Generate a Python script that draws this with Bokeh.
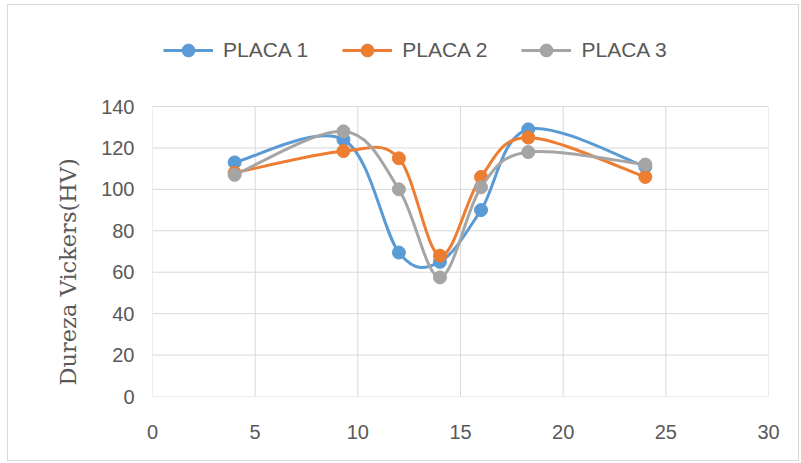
from bokeh.plotting import figure
from bokeh.models import Legend, LegendItem, Range1d, FixedTicker, Title
from bokeh.embed import file_html
from bokeh.resources import INLINE

# ---- data ----
x_pos = [4, 9.3, 12, 14, 16, 18.3, 24]
placa1 = [113, 124, 69.5, 65, 90, 129, 111]
placa2 = [108, 118.5, 115, 68, 106, 125, 106]
placa3 = [107, 128, 100, 57.5, 101, 118, 112]
series_names = ["PLACA 1", "PLACA 2", "PLACA 3"]
x_ticks = [0, 5, 10, 15, 20, 25, 30]
y_ticks = [0, 20, 40, 60, 80, 100, 120, 140]
y_title = "Dureza Vickers(HV)"

colors = ["#5b9bd5", "#ed7d31", "#a5a5a5"]
TXT = "#595959"
GRID = "#d9d9d9"

# layout constants (pixels)
FRAME_TOP_PAD = 86        # room above the 140 line for the legend
PLOT_H = 290              # pixel height of the 0..140 region


def smooth_segments(xs, ys):
    """Excel-like smoothed line: cubic Bezier control points from neighbours."""
    n = len(xs)
    out = dict(x0=[], y0=[], x1=[], y1=[], cx0=[], cy0=[], cx1=[], cy1=[])
    for i in range(n - 1):
        a = max(i - 1, 0)
        d = min(i + 2, n - 1)
        out["x0"].append(xs[i]); out["y0"].append(ys[i])
        out["x1"].append(xs[i + 1]); out["y1"].append(ys[i + 1])
        out["cx0"].append(xs[i] + (xs[i + 1] - xs[a]) / 6)
        out["cy0"].append(ys[i] + (ys[i + 1] - ys[a]) / 6)
        out["cx1"].append(xs[i + 1] - (xs[d] - xs[i]) / 6)
        out["cy1"].append(ys[i + 1] - (ys[d] - ys[i]) / 6)
    return out


ymin, ymax = y_ticks[0], y_ticks[-1]
y_top = ymax + FRAME_TOP_PAD * (ymax - ymin) / PLOT_H

p = figure(width=792, height=457, output_backend="svg", toolbar_location=None,
           x_range=Range1d(x_ticks[0], x_ticks[-1]), y_range=Range1d(ymin, y_top),
           min_border_left=144, min_border_right=32,
           min_border_top=15, min_border_bottom=66)
p.styles = {"border": "1px solid #d9d9d9", "margin-left": "7px", "margin-top": "4px"}

p.outline_line_color = None
p.xgrid.grid_line_color = None
p.ygrid.grid_line_color = None

# grid lines of the plot area (0..30 x 0..140), drawn from the tick lists
p.segment(x0=x_ticks, x1=x_ticks, y0=[ymin] * len(x_ticks), y1=[ymax] * len(x_ticks),
          line_color=GRID, line_width=1)
p.segment(x0=[x_ticks[0]] * len(y_ticks), x1=[x_ticks[-1]] * len(y_ticks),
          y0=y_ticks, y1=y_ticks, line_color=GRID, line_width=1)

p.xaxis.ticker = FixedTicker(ticks=x_ticks)
p.yaxis.ticker = FixedTicker(ticks=y_ticks)
for ax in (p.xaxis, p.yaxis):
    ax.axis_line_color = None
    ax.major_tick_line_color = None
    ax.minor_tick_line_color = None
    ax.major_label_text_color = TXT
    ax.major_label_text_font = "Liberation Sans"
    ax.major_label_text_font_size = "20px"
p.xaxis.major_label_standoff = 22
p.yaxis.major_label_standoff = 12

# y-axis title, starting just above the bottom of the plot area
ytitle = Title(text=y_title, align="left", offset=11, standoff=35,
               text_font="DejaVu Serif", text_font_style="normal",
               text_font_size="22.5px", text_color=TXT)
p.add_layout(ytitle, "left")

items = []
for name, ys, c in zip(series_names, [placa1, placa2, placa3], colors):
    seg = smooth_segments(x_pos, ys)
    r_line = p.bezier(source=seg, x0="x0", y0="y0", x1="x1", y1="y1",
                      cx0="cx0", cy0="cy0", cx1="cx1", cy1="cy1",
                      line_color=c, line_width=3)
    r_pts = p.scatter(x_pos, ys, size=13, fill_color=c, line_color=c)
    items.append(LegendItem(label=name, renderers=[r_line, r_pts]))

legend = Legend(items=items, orientation="horizontal", location=(11, 330),
                border_line_color=None, background_fill_alpha=0,
                label_text_font="Liberation Sans", label_text_font_size="21px",
                label_text_color=TXT, glyph_width=50, glyph_height=32,
                spacing=34, label_standoff=10, padding=0, margin=0)
p.add_layout(legend, "center")

open("out.html", "w").write(file_html(p, INLINE))
